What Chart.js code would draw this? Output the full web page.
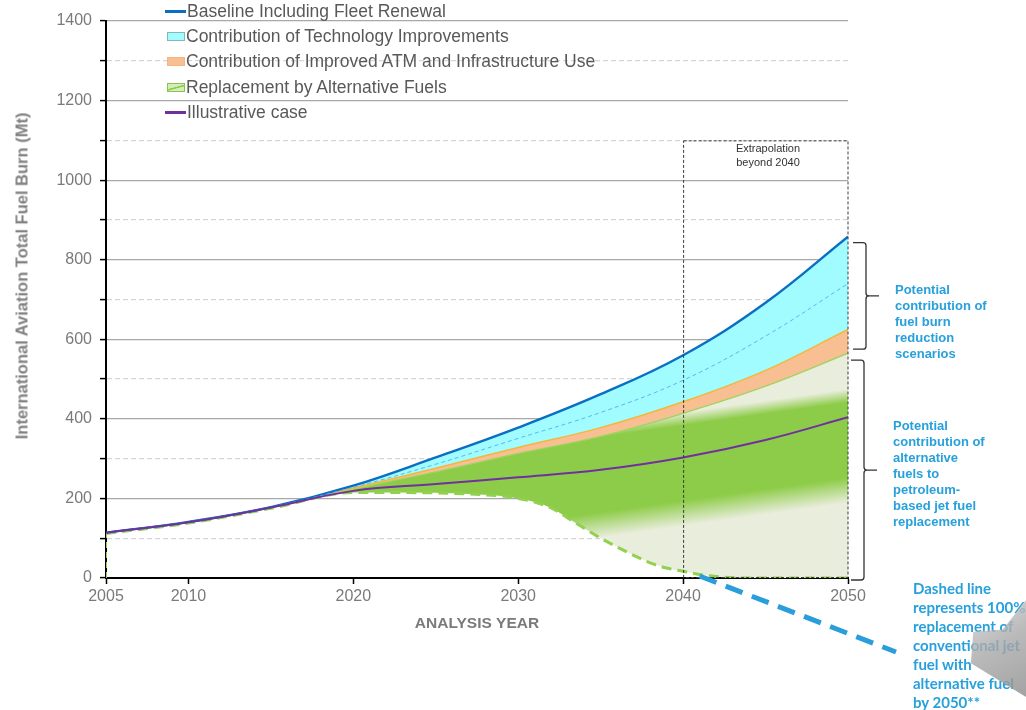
<!DOCTYPE html>
<html>
<head>
<meta charset="utf-8">
<title>International Aviation Fuel Burn</title>
<script src="https://cdn.jsdelivr.net/npm/chart.js"></script>
<style>
    body { margin: 0; background: #fff; }
    #wrap {
        position: relative; width: 1026px; height: 710px; overflow: hidden;
        font-family: "Liberation Sans", Arial, sans-serif;
    }
    #figure { position: absolute; left: 0; top: 0; }
    #legend { position: absolute; left: 0; top: 0; }
    .legend-row {
        position: absolute; left: 165px; height: 22px;
        display: flex; align-items: center;
        font-size: 17.5px; color: #595959; white-space: nowrap;
    }
    .sw-line { width: 21px; height: 2.5px; margin-right: 1px; }
    .sw-box { width: 18px; height: 9px; margin: 0 1px 0 2px; box-sizing: border-box; border: 1px solid; }
    #ytitle {
        position: absolute; left: 21.5px; top: 276px;
        transform: translate(-50%, -50%) rotate(-90deg);
        font-size: 16.5px; font-weight: bold; color: #808080; white-space: nowrap;
    }
    .note {
        position: absolute; color: #27a0dc; font-weight: bold;
        font-size: 13px; line-height: 16px; white-space: nowrap;
    }
    .note.big { font-family: Lato, "Open Sans", sans-serif; font-size: 15px; line-height: 19px; }
    #extrap {
        position: absolute; left: 708px; top: 141px; width: 120px;
        text-align: center; font-size: 11px; line-height: 14px; color: #333;
    }
    #callout {
        position: absolute; left: 968px; top: 598px; width: 58px; height: 102px;
        clip-path: polygon(100% 2%, 60% 31%, 9% 33%, 5% 64%, 100% 97%);
        background: linear-gradient(150deg, rgba(220,220,220,.8) 0%, rgba(170,170,170,.8) 45%, rgba(145,145,145,.85) 100%);
    }
</style>
</head>
<body>
<div id="wrap">
    <canvas id="figure" width="1026" height="710"></canvas>
    <div id="legend"></div>
    <div id="ytitle">International Aviation Total Fuel Burn (Mt)</div>
    <div id="extrap">Extrapolation<br>beyond 2040</div>
    <div class="note" style="left:895px; top:282px;">Potential<br>contribution of<br>fuel burn<br>reduction<br>scenarios</div>
    <div class="note" style="left:893px; top:418px;">Potential<br>contribution of<br>alternative<br>fuels to<br>petroleum-<br>based jet fuel<br>replacement</div>
    <div class="note big" style="left:913px; top:579px;">Dashed line<br>represents 100%<br>replacement of<br>conventional jet<br>fuel with<br>alternative fuel<br>by 2050**</div>
    <div id="callout"></div>
</div>

<script>
    // values (Mt)
    var years = [2005, 2010, 2015, 2020, 2025, 2030, 2035, 2040, 2045, 2050];
    var baseline = [114, 141, 178, 232, 303, 378, 462, 560, 692, 858];
    var techMidRange = [114, 141, 178, 228, 286, 351, 416, 497, 608, 740];
    var withTechnology = [114, 141, 178, 226, 276, 328, 378, 443, 522, 625];
    var withAtm = [114, 141, 178, 224, 267, 313, 356, 414, 482, 565];
    var illustrative = [114, 140, 177, 219, 236, 253, 272, 303, 347, 404];

    var altYears = [2005, 2010, 2015, 2020, 2025, 2027, 2029, 2030, 2031, 2032, 2033, 2034, 2035,
                    2036, 2037, 2038, 2039, 2040, 2041, 2042, 2043, 2044, 2050];
    var altFuel100 = [112, 138, 175, 215, 214, 211, 206, 200, 191, 176, 151, 125, 100,
                      78, 57, 38, 25, 17, 9, 4, 1, 0, 0];

    var xTickYears = [2005, 2010, 2020, 2030, 2040, 2050];
    var extrapFrom = 2040;
    var extrapTop = 1100;

    function pts(xs, ys) {
        return xs.map(function (x, i) { return { x: x, y: ys[i] }; });
    }

    var GREEN_CORE = '#8dcc48';
    var GREEN_PALE = '#e9eddc';

    // soft green band, slightly tilted, like the original shading
    function altFuelFill(c) {
        var chart = c.chart;
        var xs = chart.scales.x, ys = chart.scales.y;
        if (!chart.chartArea || !xs || !ys) return GREEN_CORE;
        var ax = xs.getPixelForValue(2040), ay = ys.getPixelForValue(289);
        var bx = xs.getPixelForValue(2050), by = ys.getPixelForValue(347);
        var len = Math.hypot(bx - ax, by - ay);
        var nx = -(by - ay) / len, ny = (bx - ax) / len;
        var s = 120;
        var g = chart.ctx.createLinearGradient(ax - nx * s, ay - ny * s, ax + nx * s, ay + ny * s);
        g.addColorStop(0, GREEN_PALE);
        g.addColorStop(0.29, GREEN_PALE);
        g.addColorStop(0.345, GREEN_CORE);
        g.addColorStop(0.655, GREEN_CORE);
        g.addColorStop(0.76, GREEN_PALE);
        g.addColorStop(1, GREEN_PALE);
        return g;
    }

    var htmlLegend = {
        id: 'htmlLegend',
        afterUpdate: function (chart) {
            var box = document.getElementById('legend');
            box.innerHTML = '';
            var row = 0;
            chart.data.datasets.forEach(function (ds) {
                if (!ds.swatch) return;
                var div = document.createElement('div');
                div.className = 'legend-row';
                div.style.top = (0.5 + row * 25.2) + 'px';
                var sw = document.createElement('span');
                if (ds.swatch.kind === 'line') {
                    sw.className = 'sw-line';
                    sw.style.background = ds.borderColor;
                } else {
                    sw.className = 'sw-box';
                    sw.style.background = ds.swatch.fill;
                    sw.style.borderColor = ds.swatch.border;
                }
                div.appendChild(sw);
                div.appendChild(document.createTextNode(ds.label));
                box.appendChild(div);
                row++;
            });
        }
    };

    function brace(c, xv, top, bottom) {
        var mid = (top + bottom) / 2, r = 3;
        c.beginPath();
        c.moveTo(xv - 13, top);
        c.lineTo(xv - r, top);
        c.quadraticCurveTo(xv, top, xv, top + r);
        c.lineTo(xv, mid - r);
        c.quadraticCurveTo(xv, mid, xv + r, mid);
        c.quadraticCurveTo(xv, mid, xv, mid + r);
        c.lineTo(xv, bottom - r);
        c.quadraticCurveTo(xv, bottom, xv - r, bottom);
        c.lineTo(xv - 13, bottom);
        c.moveTo(xv + r, mid);
        c.lineTo(xv + 13, mid);
        c.stroke();
    }

    var overlays = {
        id: 'overlays',
        afterDraw: function (chart) {
            var c = chart.ctx, x = chart.scales.x, y = chart.scales.y;
            var area = chart.chartArea;
            c.save();

            // extrapolation box
            c.setLineDash([3, 2]);
            c.strokeStyle = '#3a3a3a';
            c.lineWidth = 1;
            var bx0 = x.getPixelForValue(extrapFrom), bx1 = x.getPixelForValue(x.max);
            var by0 = y.getPixelForValue(extrapTop), by1 = y.getPixelForValue(0);
            c.strokeRect(bx0 + 0.5, by0 + 0.5, bx1 - bx0 - 0.5, by1 - by0 - 1);

            // braces at the right of the plot
            c.setLineDash([]);
            c.strokeStyle = '#333';
            c.lineWidth = 1.3;
            var xv = area.right + 18;
            var yBase = y.getPixelForValue(baseline[baseline.length - 1]);
            var yAtm = y.getPixelForValue(withAtm[withAtm.length - 1]);
            brace(c, xv, yBase + 6, yAtm - 4);
            brace(c, xv - 2, yAtm + 7, y.getPixelForValue(0) + 2);

            // blue dashed pointer to the note
            c.setLineDash([18, 10]);
            c.strokeStyle = '#2a9ddb';
            c.lineWidth = 5;
            c.beginPath();
            c.moveTo(x.getPixelForValue(2041), y.getPixelForValue(0) - 2);
            c.lineTo(896, 652);
            c.stroke();
            c.restore();
        }
    };

    var ctx = document.getElementById('figure').getContext('2d');

    new Chart(ctx, {
        type: 'line',
        data: {
            datasets: [{
                label: 'Baseline Including Fleet Renewal',
                data: pts(years, baseline),
                borderColor: '#0a6fc2',
                borderWidth: 2.4,
                fill: false,
                order: 0,
                swatch: { kind: 'line' }
            }, {
                label: 'Contribution of Technology Improvements',
                data: pts(years, withTechnology),
                borderColor: '#f5b63a',
                borderWidth: 1.5,
                backgroundColor: '#a0fcff',
                fill: { target: 0 },
                order: 1,
                swatch: { kind: 'box', fill: '#a0fcff', border: '#8ab4bc' }
            }, {
                label: 'Contribution of Improved ATM and Infrastructure Use',
                data: pts(years, withAtm),
                borderColor: '#9fd460',
                borderWidth: 1.3,
                backgroundColor: '#f8bf93',
                fill: { target: 1 },
                order: 2,
                swatch: { kind: 'box', fill: '#f8bf93', border: '#f3b486' }
            }, {
                label: 'Replacement by Alternative Fuels',
                data: pts(altYears, altFuel100),
                borderColor: '#92d050',
                borderWidth: 3,
                borderDash: [10, 6],
                backgroundColor: altFuelFill,
                cubicInterpolationMode: 'monotone',
                fill: { target: 2 },
                order: 3,
                swatch: { kind: 'box', fill: 'linear-gradient(165deg, #d6ecbb 42%, #8ccb48 48%, #8ccb48 56%, #d6ecbb 62%)', border: '#86c64a' }
            }, {
                label: 'Illustrative case',
                data: pts(years, illustrative),
                borderColor: '#7030a0',
                borderWidth: 2,
                fill: false,
                order: -2,
                swatch: { kind: 'line' }
            }, {
                label: 'mid-range technology',
                data: pts(years, techMidRange),
                borderColor: '#5ab8ee',
                borderWidth: 1,
                borderDash: [4, 3],
                fill: false,
                order: -1
            }, {
                label: 'start outline',
                data: [{ x: 2005, y: 0 }, { x: 2005, y: altFuel100[0] }],
                borderColor: '#92d050',
                borderWidth: 2,
                borderDash: [6, 4],
                tension: 0,
                fill: false,
                order: -1
            }]
        },
        options: {
            responsive: false,
            animation: false,
            events: [],
            layout: { padding: { left: 0, top: 21, right: 178, bottom: 72 } },
            elements: {
                point: { radius: 0 },
                line: { tension: 0.4 }
            },
            plugins: {
                legend: { display: false },
                tooltip: { enabled: false }
            },
            scales: {
                x: {
                    type: 'linear',
                    position: 'bottom',
                    min: 2005,
                    max: 2050,
                    z: 1,
                    afterFit: function (s) { s.height = 60; },
                    afterBuildTicks: function (s) {
                        s.ticks = xTickYears.map(function (v) { return { value: v }; });
                    },
                    grid: {
                        display: true,
                        drawOnChartArea: false,
                        drawTicks: true,
                        tickLength: 6,
                        tickColor: '#000',
                        tickWidth: 1.5
                    },
                    border: { display: true, color: '#000', width: 2 },
                    ticks: {
                        autoSkip: false,
                        maxRotation: 0,
                        padding: 3,
                        color: '#7a7a7a',
                        font: { family: '"Liberation Sans", Arial, sans-serif', size: 16 },
                        callback: function (v) { return String(v); }
                    },
                    title: {
                        display: true,
                        text: 'ANALYSIS YEAR',
                        color: '#7a7a7a',
                        align: 'center',
                        padding: { top: 0, bottom: 5 },
                        font: { family: '"Liberation Sans", Arial, sans-serif', size: 15.5, weight: 'bold' }
                    }
                },
                y: {
                    type: 'linear',
                    min: 0,
                    max: 1400,
                    z: 1,
                    afterFit: function (s) { s.width = 106; },
                    grid: {
                        color: function (c) {
                            if (!c.tick || c.tick.value === 0) return 'rgba(0,0,0,0)';
                            return c.tick.value % 200 === 0 ? '#a8a8a8' : '#d6d6d6';
                        },
                        lineWidth: 1.2,
                        drawTicks: true,
                        tickLength: 6,
                        tickColor: '#000',
                        tickWidth: 1.5
                    },
                    border: {
                        display: true,
                        color: '#000',
                        width: 2,
                        dash: function (c) {
                            return c.tick && c.tick.value % 200 !== 0 ? [5, 3] : [];
                        }
                    },
                    ticks: {
                        stepSize: 100,
                        padding: 8,
                        color: '#7a7a7a',
                        font: { family: '"Liberation Sans", Arial, sans-serif', size: 16 },
                        callback: function (v) { return v % 200 === 0 ? String(v) : ''; }
                    },
                    title: { display: false }
                }
            }
        },
        plugins: [htmlLegend, overlays]
    });
</script>
</body>
</html>
